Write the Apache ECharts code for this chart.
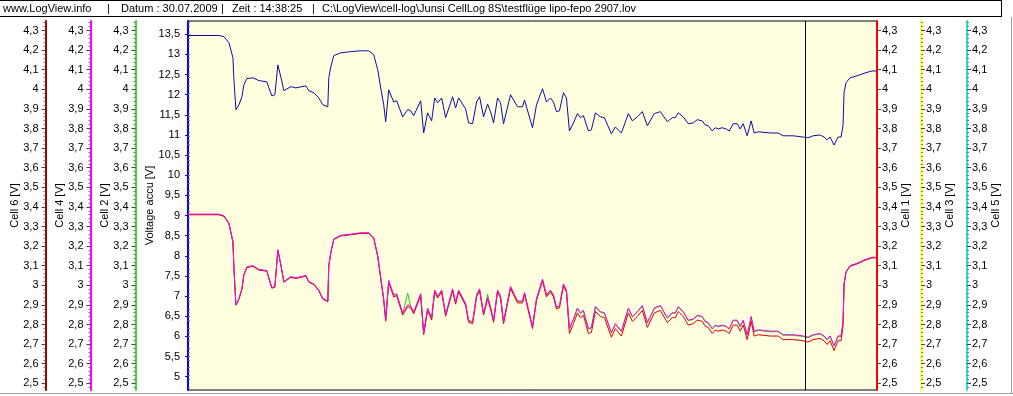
<!DOCTYPE html>
<html>
<head>
<meta charset="utf-8">
<script src="https://cdn.jsdelivr.net/npm/echarts@6/dist/echarts.min.js"></script>
<style>
html,body{margin:0;padding:0;background:#fff;}
#c{width:1013px;height:396px;}
</style>
</head>
<body>
<div id="c"></div>
<script>
// ---- data ----
const headerParts = ["www.LogView.info", "|", "Datum : 30.07.2009", "|", "Zeit : 14:38:25", "|", "C:\\LogView\\cell-log\\Junsi CellLog 8S\\testflüge lipo-fepo 2907.lov"];
const cursorTime = 6180;
const times = [0,310,360,410,450,460,480,510,540,560,590,650,710,790,810,840,870,900,930,960,1030,1080,1180,1210,1260,1310,1350,1400,1410,1430,1460,1530,1630,1730,1810,1860,1900,1930,1960,1980,2010,2060,2090,2150,2200,2230,2260,2330,2360,2400,2440,2470,2500,2540,2580,2650,2680,2710,2780,2810,2850,2890,2920,2960,3000,3030,3060,3100,3130,3160,3230,3300,3350,3370,3450,3490,3550,3590,3630,3660,3690,3720,3760,3790,3820,3860,3900,3930,3960,4010,4040,4080,4130,4170,4240,4280,4340,4410,4450,4500,4550,4600,4620,4670,4730,4800,4850,4880,4910,4960,5010,5060,5100,5150,5180,5210,5250,5280,5310,5350,5390,5420,5460,5500,5530,5560,5600,5640,5670,5710,5830,5910,5960,6060,6160,6210,6260,6330,6370,6400,6430,6470,6510,6540,6560,6570,6590,6630,6700,6780,6850,6890];
const accu = [13.47,13.47,13.44,13.29,12.92,12.37,11.63,11.75,11.95,12.25,12.40,12.42,12.35,12.32,12.17,11.97,12.00,12.74,12.44,12.10,12.20,12.17,12.22,12.10,12.05,11.92,11.75,11.70,12.42,12.69,12.97,13.04,13.07,13.09,13.09,12.99,12.62,12.17,11.75,11.33,12.12,11.82,11.85,11.45,11.63,11.60,11.48,11.85,11.05,11.55,11.35,11.92,11.80,11.92,11.43,11.95,11.67,11.92,11.65,11.30,11.28,11.82,11.95,11.45,11.77,11.58,11.30,11.92,11.80,11.28,12.00,11.70,11.70,11.87,11.18,11.75,12.15,11.82,11.92,11.82,11.58,11.60,12.05,11.92,11.10,11.30,11.53,11.43,11.48,11.10,11.13,11.55,11.45,11.43,11.03,11.20,11.05,11.53,11.35,11.45,11.58,11.23,11.25,11.53,11.58,11.33,11.43,11.43,11.55,11.45,11.28,11.30,11.38,11.35,11.25,11.23,11.10,11.18,11.15,11.18,11.15,11.10,11.28,11.28,11.15,11.28,10.98,11.35,11.05,11.08,11.05,11.05,10.98,10.98,10.95,10.93,10.98,11.00,10.95,10.88,10.95,10.75,10.95,10.95,11.25,12.05,12.30,12.42,12.47,12.54,12.59,12.59];
const cell1 = [3.360,3.360,3.352,3.314,3.221,3.085,2.898,2.929,2.979,3.054,3.091,3.097,3.078,3.072,3.035,2.985,2.991,3.178,3.103,3.016,3.041,3.035,3.047,3.016,3.004,2.973,2.929,2.917,3.097,3.165,3.234,3.252,3.258,3.265,3.265,3.240,3.147,3.035,2.922,2.817,3.015,2.941,2.947,2.848,2.891,2.885,2.854,2.947,2.748,2.873,2.823,2.966,2.935,2.966,2.842,2.972,2.904,2.966,2.897,2.811,2.804,2.941,2.972,2.848,2.929,2.879,2.811,2.966,2.935,2.804,2.984,2.910,2.910,2.953,2.779,2.922,3.022,2.941,2.966,2.941,2.879,2.885,2.997,2.966,2.754,2.804,2.859,2.835,2.847,2.754,2.760,2.866,2.841,2.835,2.735,2.779,2.741,2.859,2.816,2.841,2.872,2.785,2.791,2.859,2.872,2.810,2.835,2.835,2.866,2.841,2.797,2.804,2.822,2.816,2.791,2.785,2.754,2.772,2.766,2.772,2.766,2.754,2.797,2.797,2.766,2.797,2.723,2.816,2.741,2.748,2.741,2.741,2.723,2.723,2.717,2.710,2.723,2.729,2.717,2.698,2.717,2.667,2.717,2.717,2.791,3.004,3.066,3.097,3.109,3.128,3.140,3.140];
const cell2 = [3.361,3.361,3.353,3.315,3.222,3.086,2.899,2.930,2.980,3.055,3.092,3.098,3.079,3.073,3.036,2.986,2.992,3.179,3.104,3.017,3.042,3.036,3.048,3.017,3.005,2.974,2.930,2.918,3.098,3.166,3.235,3.253,3.259,3.266,3.266,3.241,3.148,3.036,2.929,2.824,3.022,2.948,2.954,2.855,2.960,2.892,2.861,2.954,2.755,2.880,2.830,2.973,2.942,2.973,2.849,2.979,2.911,2.973,2.904,2.818,2.811,2.948,2.979,2.850,2.955,2.886,2.818,2.973,2.942,2.811,2.991,2.917,2.917,2.960,2.786,2.929,3.029,2.948,2.973,2.948,2.886,2.892,3.004,2.973,2.776,2.826,2.881,2.857,2.869,2.776,2.782,2.888,2.863,2.857,2.757,2.801,2.763,2.881,2.838,2.863,2.894,2.807,2.813,2.881,2.894,2.832,2.857,2.857,2.888,2.863,2.819,2.826,2.844,2.838,2.813,2.807,2.776,2.794,2.788,2.794,2.788,2.776,2.819,2.819,2.788,2.819,2.745,2.838,2.763,2.770,2.763,2.763,2.745,2.745,2.739,2.732,2.745,2.751,2.739,2.720,2.739,2.689,2.739,2.739,2.813,3.006,3.068,3.099,3.111,3.130,3.142,3.142];
const cell3 = [3.362,3.362,3.354,3.316,3.223,3.087,2.900,2.931,2.981,3.056,3.093,3.099,3.080,3.074,3.037,2.987,2.993,3.180,3.105,3.018,3.043,3.037,3.049,3.018,3.006,2.975,2.931,2.919,3.099,3.167,3.236,3.254,3.260,3.267,3.267,3.242,3.149,3.037,2.930,2.825,3.023,2.949,2.955,2.856,2.899,2.893,2.862,2.955,2.756,2.881,2.831,2.974,2.943,2.974,2.850,2.980,2.912,2.974,2.905,2.819,2.812,2.949,2.980,2.856,2.937,2.887,2.819,2.974,2.943,2.812,2.992,2.918,2.918,2.961,2.787,2.930,3.030,2.949,2.974,2.949,2.887,2.893,3.005,2.974,2.778,2.828,2.883,2.859,2.871,2.778,2.784,2.890,2.865,2.859,2.759,2.803,2.765,2.883,2.840,2.865,2.896,2.809,2.815,2.883,2.896,2.834,2.859,2.859,2.890,2.865,2.821,2.828,2.846,2.840,2.815,2.809,2.778,2.796,2.790,2.796,2.790,2.778,2.821,2.821,2.790,2.821,2.747,2.840,2.765,2.772,2.765,2.765,2.747,2.747,2.741,2.734,2.747,2.753,2.741,2.722,2.741,2.691,2.741,2.741,2.815,3.007,3.069,3.100,3.112,3.131,3.143,3.143];
const cell4 = [3.363,3.363,3.355,3.317,3.224,3.088,2.901,2.932,2.982,3.057,3.094,3.100,3.081,3.075,3.038,2.988,2.994,3.181,3.106,3.019,3.044,3.038,3.050,3.019,3.007,2.976,2.932,2.920,3.100,3.168,3.237,3.255,3.261,3.268,3.268,3.243,3.150,3.038,2.932,2.827,3.025,2.951,2.957,2.858,2.901,2.895,2.864,2.957,2.758,2.883,2.833,2.976,2.945,2.976,2.852,2.982,2.914,2.976,2.907,2.821,2.814,2.951,2.982,2.858,2.939,2.889,2.821,2.976,2.945,2.814,2.994,2.920,2.920,2.963,2.789,2.932,3.032,2.951,2.976,2.951,2.889,2.895,3.007,2.976,2.779,2.829,2.884,2.860,2.872,2.779,2.785,2.891,2.866,2.860,2.760,2.804,2.766,2.884,2.841,2.866,2.897,2.810,2.816,2.884,2.897,2.835,2.860,2.860,2.891,2.866,2.822,2.829,2.847,2.841,2.816,2.810,2.779,2.797,2.791,2.797,2.791,2.779,2.822,2.822,2.791,2.822,2.748,2.841,2.766,2.773,2.766,2.766,2.748,2.748,2.742,2.735,2.748,2.754,2.742,2.723,2.742,2.692,2.742,2.742,2.816,3.007,3.069,3.100,3.112,3.131,3.143,3.143];
const cellTickLabels = [2.5,2.6,2.7,2.8,2.9,3.0,3.1,3.2,3.3,3.4,3.5,3.6,3.7,3.8,3.9,4.0,4.1,4.2,4.3];
const accuTickLabels = [5,5.5,6,6.5,7,7.5,8,8.5,9,9.5,10,10.5,11,11.5,12,12.5,13,13.5];

// ---- chart ----
const FONT = 'Liberation Sans, Arial, sans-serif';
const CELL_MIN = 2.4658, CELL_MAX = 4.3485;
const fmt = v => String(Math.round(v * 10) / 10).replace('.', ',');
const pairs = arr => times.map((t, i) => [t, arr[i]]);
// minor tick positions (every 0.02 V between the labelled ticks)
const minorCell = [];
for (let k = 124; k <= 217; k++) { if (k % 5) minorCell.push(+(k * 0.02).toFixed(2)); }

function cellAxis(name, color, position, offset, gap, lw) {
  return {
    type: 'value', name: name, nameLocation: 'middle', nameRotate: 90, nameGap: gap,
    nameMoveOverlap: false,
    nameTextStyle: {fontFamily: FONT, fontSize: 11, color: '#000'},
    position: position, offset: offset, min: CELL_MIN, max: CELL_MAX,
    axisLine: {show: true, onZero: false, lineStyle: {color: color, width: lw || 2}},
    axisTick: {show: true, length: 4, customValues: cellTickLabels, lineStyle: {color: '#444'}},
    axisLabel: {customValues: cellTickLabels, formatter: fmt, fontFamily: FONT, fontSize: 11, color: '#000', margin: position === 'left' ? 7 : 5},
    splitLine: {show: false}
  };
}
function minorAxis(position, offset) {
  return {
    type: 'value', position: position, offset: offset, min: CELL_MIN, max: CELL_MAX,
    axisLine: {show: false}, axisLabel: {show: false}, splitLine: {show: false},
    axisTick: {show: true, length: 2, customValues: minorCell, lineStyle: {color: '#777'}}
  };
}

const chart = echarts.init(document.getElementById('c'), null, {renderer: 'canvas'});

const graphics = [
  {type: 'line', shape: {x1: 0, y1: 0.5, x2: 1002, y2: 0.5}, style: {stroke: '#000', lineWidth: 1}},
  {type: 'line', shape: {x1: 0, y1: 16.5, x2: 1002, y2: 16.5}, style: {stroke: '#000', lineWidth: 1}},
  {type: 'line', shape: {x1: 1001.5, y1: 0, x2: 1001.5, y2: 17}, style: {stroke: '#000', lineWidth: 1}},
  {type: 'line', shape: {x1: 0, y1: 393.5, x2: 1013, y2: 393.5}, style: {stroke: '#a0a0a0', lineWidth: 1}},
  {type: 'line', shape: {x1: 1011.5, y1: 17, x2: 1011.5, y2: 394}, style: {stroke: '#a0a0a0', lineWidth: 1}}
];
const headerX = [3, 107, 121, 221, 232, 312, 322];
headerParts.forEach((txt, i) => {
  graphics.push({type: 'text', x: headerX[i], y: 8.5,
    style: {text: txt, fontFamily: FONT, fontSize: 11, fill: '#000', textVerticalAlign: 'middle'}});
});

const option = {
  animation: false,
  backgroundColor: '#fff',
  grid: {left: 188, right: 136, top: 21, bottom: 6, show: true, backgroundColor: '#FFFFE0',
         borderColor: '#000', borderWidth: 1, containLabel: false, outerBoundsMode: 'none'},
  xAxis: {type: 'value', min: 0, max: 6900, show: false},
  yAxis: [
    {
      type: 'value', name: 'Voltage accu [V]', nameLocation: 'middle', nameRotate: 90, nameGap: 33,
      nameMoveOverlap: false,
      nameTextStyle: {fontFamily: FONT, fontSize: 11, color: '#000'},
      position: 'left', offset: 0, min: 4.670, max: 13.830,
      axisLine: {show: true, onZero: false, lineStyle: {color: '#0000ff', width: 2}},
      axisTick: {show: true, length: 3, customValues: accuTickLabels, lineStyle: {color: '#0000ff'}},
      axisLabel: {customValues: accuTickLabels, formatter: fmt, fontFamily: FONT, fontSize: 11, color: '#000', margin: 8},
      splitLine: {show: false}
    },
    cellAxis('Cell 1 [V]', '#ff0000', 'right', 0, 23),
    cellAxis('Cell 2 [V]', '#33dd33', 'left', 52.5, 25),
    cellAxis('Cell 3 [V]', '#ffff66', 'right', 44, 23, 3),
    cellAxis('Cell 4 [V]', '#ff00ff', 'left', 97.5, 25),
    cellAxis('Cell 5 [V]', '#22e0e0', 'right', 90, 23),
    cellAxis('Cell 6 [V]', '#a00000', 'left', 142.5, 25),
    minorAxis('right', 0),
    minorAxis('left', 52.5),
    minorAxis('right', 44),
    minorAxis('left', 97.5),
    minorAxis('right', 90),
    minorAxis('left', 142.5)
  ],
  series: [
    {name: 'Voltage accu', type: 'line', yAxisIndex: 0, data: pairs(accu), showSymbol: false,
     lineStyle: {color: '#0c0ca8', width: 1}, itemStyle: {color: '#0c0ca8'}},
    {name: 'Cell 3', type: 'line', yAxisIndex: 3, data: pairs(cell3), showSymbol: false,
     lineStyle: {color: '#ffff00', width: 1}, itemStyle: {color: '#ffff00'}},
    {name: 'Cell 2', type: 'line', yAxisIndex: 2, data: pairs(cell2), showSymbol: false,
     lineStyle: {color: '#22cc22', width: 1}, itemStyle: {color: '#22cc22'}},
    {name: 'Cell 1', type: 'line', yAxisIndex: 1, data: pairs(cell1), showSymbol: false,
     lineStyle: {color: '#e00000', width: 1}, itemStyle: {color: '#e00000'}},
    {name: 'Cell 4', type: 'line', yAxisIndex: 4, data: pairs(cell4), showSymbol: false,
     lineStyle: {color: '#ff00ff', width: 1}, itemStyle: {color: '#ff00ff'},
     markLine: {silent: true, symbol: ['none', 'none'], label: {show: false},
       lineStyle: {color: '#000', width: 1, type: 'solid'}, data: [{xAxis: cursorTime}]}}
  ],
  graphic: graphics
};
chart.setOption(option);
</script>
</body>
</html>
